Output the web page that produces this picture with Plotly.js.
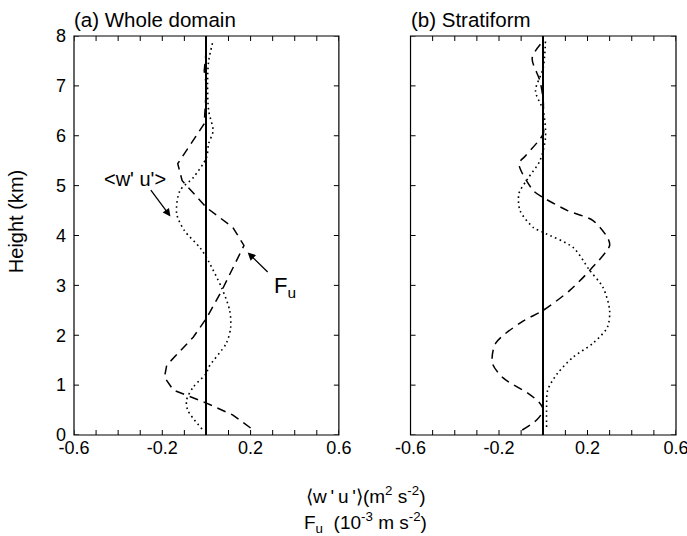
<!DOCTYPE html>
<html>
<head>
<meta charset="utf-8">
<script src="https://cdn.plot.ly/plotly-3.0.1.min.js"></script>
<style>html,body{margin:0;padding:0;background:#fff;}#chart{width:687px;height:536px;}</style>
</head>
<body>
<div id="chart"></div>
<script>
// Panel (a) Whole domain
const aFuHeight = [0.14, 0.4, 0.64, 0.9, 1.16, 1.4, 1.96, 2.34, 2.9, 3.8, 4.16, 4.56, 5.1, 5.44, 6.24, 7.0, 7.3, 7.76];
const aFuValue  = [0.2, 0.12, 0.0, -0.15, -0.19, -0.18, -0.06, 0.0, 0.07, 0.17, 0.12, 0.0, -0.11, -0.13, -0.01, 0.0, -0.01, 0.0];
const aWuHeight = [0.12, 0.5, 0.7, 0.96, 1.24, 1.36, 1.84, 2.16, 2.5, 2.94, 3.56, 3.76, 4.1, 4.44, 4.9, 5.16, 5.56, 5.84, 6.1, 6.5, 7.04, 7.5, 7.9];
const aWuValue  = [-0.02, -0.085, -0.09, -0.06, 0.0, 0.01, 0.09, 0.11, 0.105, 0.07, 0.0, -0.03, -0.1, -0.135, -0.12, -0.06, 0.0, 0.01, 0.03, 0.01, 0.005, 0.01, 0.03];
// Panel (b) Stratiform
const bFuHeight = [0.1, 0.3, 0.5, 0.66, 0.84, 1.14, 1.44, 1.84, 2.26, 2.5, 2.9, 3.3, 3.8, 3.96, 4.3, 4.5, 4.76, 4.9, 5.44, 5.6, 6.04, 6.24, 6.7, 7.1, 7.56, 7.9];
const bFuValue  = [-0.095, -0.03, 0.0, -0.02, -0.07, -0.18, -0.23, -0.215, -0.1, 0.0, 0.12, 0.21, 0.3, 0.29, 0.225, 0.11, 0.0, -0.045, -0.11, -0.08, 0.0, 0.0, 0.0, -0.015, -0.05, 0.0];
const bWuHeight = [0.16, 0.56, 0.9, 1.24, 1.56, 1.84, 2.16, 2.5, 2.96, 3.3, 3.76, 4.06, 4.16, 4.5, 4.84, 5.14, 5.5, 5.96, 6.5, 6.9, 7.36, 7.9];
const bWuValue  = [0.015, 0.015, 0.02, 0.065, 0.135, 0.225, 0.29, 0.3, 0.27, 0.21, 0.135, 0.0, -0.045, -0.105, -0.11, -0.07, -0.015, 0.01, 0.0, -0.035, 0.0, 0.01];

// tick marks every 0.1 on x, labels only at four of them
const xTickVals = [-0.6, -0.5, -0.4, -0.3, -0.2, -0.1, 0, 0.1, 0.2, 0.3, 0.4, 0.5, 0.6];
const xTickText = ['-0.6', '', '', '', '-0.2', '', '', '', '0.2', '', '', '', '0.6'];
const yTickVals = [0, 1, 2, 3, 4, 5, 6, 7, 8];

const FONT = 'Liberation Sans, Arial, Helvetica, sans-serif';
const dashed = {color: 'black', width: 1.5, dash: '9px,6px'};
const dotted = {color: 'black', width: 1.6, dash: '1.6px,3.4px'};

const traces = [
  {x: aFuValue, y: aFuHeight, xaxis: 'x', yaxis: 'y', mode: 'lines', line: dashed},
  {x: aWuValue, y: aWuHeight, xaxis: 'x', yaxis: 'y', mode: 'lines', line: Object.assign({shape: 'spline', smoothing: 0.8}, dotted)},
  {x: bFuValue, y: bFuHeight, xaxis: 'x2', yaxis: 'y2', mode: 'lines', line: Object.assign({shape: 'spline', smoothing: 0.8}, dashed)},
  {x: bWuValue, y: bWuHeight, xaxis: 'x2', yaxis: 'y2', mode: 'lines', line: Object.assign({shape: 'spline', smoothing: 0.8}, dotted)}
];

function xAxis(domain, anchor) {
  return {
    domain: domain, anchor: anchor, range: [-0.6, 0.6],
    tickmode: 'array', tickvals: xTickVals, ticktext: xTickText, ticks: '',
    showline: false, showgrid: false,
    zeroline: true, zerolinecolor: 'black', zerolinewidth: 2,
    tickfont: {family: FONT, size: 18, color: 'black'}, ticklabelstandoff: 0,
    ticklabeloverflow: 'allow'
  };
}
function yAxis(anchor, showLabels) {
  return {
    anchor: anchor, range: [0, 8], tickmode: 'array', tickvals: yTickVals, showticklabels: showLabels,
    ticks: '', showline: false, showgrid: false, zeroline: false, ticklabelstandoff: 7,
    tickfont: {family: FONT, size: 18, color: 'black'}
  };
}

// frame and inward tick marks (separate single-segment shapes, positioned by the axes)
const shapes = [];
const tickLine = {color: 'black', width: 1};
[['x', 'y'], ['x2', 'y2']].forEach(function (p) {
  const xr = p[0], yr = p[1];
  shapes.push({type: 'rect', xref: xr + ' domain', yref: yr + ' domain', x0: 0, x1: 1, y0: 0, y1: 1,
               line: {color: 'black', width: 1.2}, layer: 'above'});
  xTickVals.forEach(function (v) {
    shapes.push({type: 'line', xref: xr, yref: yr + ' domain', x0: v, x1: v, y0: 0, y1: 0.0125, line: tickLine, layer: 'above'});
    shapes.push({type: 'line', xref: xr, yref: yr + ' domain', x0: v, x1: v, y0: 1, y1: 0.9875, line: tickLine, layer: 'above'});
  });
  yTickVals.forEach(function (v) {
    shapes.push({type: 'line', xref: xr + ' domain', yref: yr, x0: 0, x1: 0.019, y0: v, y1: v, line: tickLine, layer: 'above'});
    shapes.push({type: 'line', xref: xr + ' domain', yref: yr, x0: 1, x1: 0.981, y0: v, y1: v, line: tickLine, layer: 'above'});
  });
});

const layout = {
  width: 687, height: 536,
  margin: {l: 74, r: 11, t: 36, b: 101},
  paper_bgcolor: 'white', plot_bgcolor: 'white',
  showlegend: false,
  font: {family: FONT, color: 'black'},
  xaxis: xAxis([0, 0.44], 'y'),
  yaxis: yAxis('x', true),
  xaxis2: xAxis([0.559, 1], 'y2'),
  yaxis2: yAxis('x2', false),
  shapes: shapes,
  annotations: [
    {xref: 'paper', yref: 'paper', x: -0.003, y: 1, xanchor: 'left', yanchor: 'bottom', yshift: 3,
     text: '(a) Whole domain', showarrow: false, font: {size: 20.5}},
    {xref: 'paper', yref: 'paper', x: 0.557, y: 1, xanchor: 'left', yanchor: 'bottom', yshift: 3,
     text: '(b) Stratiform', showarrow: false, font: {size: 20.5}},
    {xref: 'paper', yref: 'paper', x: -0.097, y: 0.535, xanchor: 'center', yanchor: 'middle', textangle: -90,
     text: 'Height (km)', showarrow: false, font: {size: 20}},
    {xref: 'paper', yref: 'paper', x: 0.484, y: -0.15, xanchor: 'center', yanchor: 'middle',
     text: '\u27E8w\u2009\'\u2009u\u2009\'\u27E9(m<sup>2</sup> s<sup>-2</sup>)', showarrow: false, font: {size: 19}},
    {xref: 'paper', yref: 'paper', x: 0.484, y: -0.22, xanchor: 'center', yanchor: 'middle',
     text: 'F<sub>u</sub>  (10<sup>-3</sup> m s<sup>-2</sup>)', showarrow: false, font: {size: 19}},
    {xref: 'x', yref: 'y', x: -0.324, y: 5.14, text: '&lt;w\' u\'&gt;', showarrow: false, font: {size: 20}},
    {xref: 'x', yref: 'y', x: -0.163, y: 4.38, axref: 'x', ayref: 'y', ax: -0.257, ay: 4.94,
     text: '', showarrow: true, arrowhead: 2, arrowsize: 1.2, arrowwidth: 1.3, arrowcolor: 'black'},
    {xref: 'x', yref: 'y', x: 0.355, y: 2.96, text: 'F<sub>u</sub>', showarrow: false, font: {size: 22}},
    {xref: 'x', yref: 'y', x: 0.187, y: 3.66, axref: 'x', ayref: 'y', ax: 0.284, ay: 3.24,
     text: '', showarrow: true, arrowhead: 2, arrowsize: 1.2, arrowwidth: 1.3, arrowcolor: 'black'}
  ]
};

Plotly.newPlot('chart', traces, layout, {staticPlot: true, displayModeBar: false});
</script>
</body>
</html>
